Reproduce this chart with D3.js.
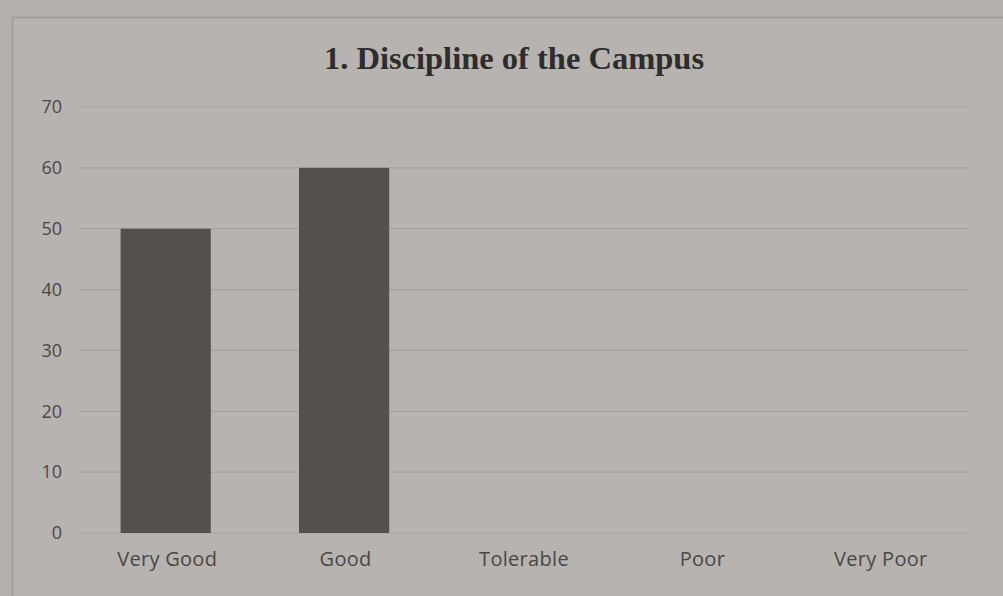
<!DOCTYPE html>
<html>
<head>
<meta charset="utf-8">
<script src="https://cdn.jsdelivr.net/npm/d3@7"></script>
<style>
  body { margin: 0; background: #b3afac; }
  svg { display: block; }
</style>
</head>
<body>
<svg id="chart"></svg>
<script>
// chart data
const categories = ["Very Good", "Good", "Tolerable", "Poor", "Very Poor"];
const values = [50, 60, 0, 0, 0];
const yTicks = [0, 10, 20, 30, 40, 50, 60, 70];
const title = "1. Discipline of the Campus";

const W = 1003, H = 596;
const margin = { top: 107, right: 33, bottom: 63, left: 78 };
const width = W - margin.left - margin.right;
const height = H - margin.top - margin.bottom;

const svg = d3.select("#chart")
    .attr("width", W)
    .attr("height", H);

// paper background + faint chart frame
svg.append("rect")
    .attr("width", W).attr("height", H)
    .attr("fill", "#b3afac");
svg.append("rect")
    .attr("x", 12.5).attr("y", 17.5)
    .attr("width", W + 20).attr("height", H + 20)
    .attr("fill", "#b6b3b0")
    .attr("stroke", "#a19d9a")
    .attr("stroke-width", 1.5);

const g = svg.append("g")
    .attr("transform", "translate(" + margin.left + "," + margin.top + ")");

const x = d3.scaleBand()
    .domain(categories)
    .range([0, width])
    .paddingInner(0.5)
    .paddingOuter(0.25);

const y = d3.scaleLinear()
    .domain([0, 70])
    .range([height, 0]);

//gridlines
g.append("g")
    .selectAll("line")
    .data(yTicks)
    .enter().append("line")
    .attr("x1", 0)
    .attr("x2", width)
    .attr("y1", d => y(d))
    .attr("y2", d => y(d))
    .attr("stroke", "#a6a3a1")
    .attr("stroke-width", 1.2);

//bars
g.selectAll(".bar")
    .data(values)
    .enter().append("rect")
    .attr("class", "bar")
    .attr("x", (d, i) => x(categories[i]) - 2)
    .attr("width", x.bandwidth() + 1)
    .attr("y", d => y(d))
    .attr("height", d => height - y(d))
    .attr("fill", "#53504e");

//y axis
const yAxis = g.append("g")
    .call(d3.axisLeft(y).tickValues(yTicks).tickSize(0).tickPadding(16));
yAxis.select(".domain").remove();
yAxis.selectAll("text")
    .attr("fill", "#4a4847")
    .style("font-family", "'Open Sans', sans-serif")
    .style("font-size", "18px");

//x axis
const xAxis = g.append("g")
    .attr("transform", "translate(0," + height + ")")
    .call(d3.axisBottom(x).tickSize(0).tickPadding(19));
xAxis.select(".domain").remove();
xAxis.selectAll("text")
    .attr("fill", "#4a4847")
    .style("font-family", "'Open Sans', sans-serif")
    .style("font-size", "20px")
    .style("letter-spacing", "0.3px");

//title
svg.append("text")
    .attr("x", 514)
    .attr("y", 69)
    .attr("text-anchor", "middle")
    .attr("fill", "#2e2c2c")
    .style("font-family", "'Liberation Serif', serif")
    .style("font-weight", "bold")
    .style("font-size", "32.5px")
    .text(title);
</script>
</body>
</html>
